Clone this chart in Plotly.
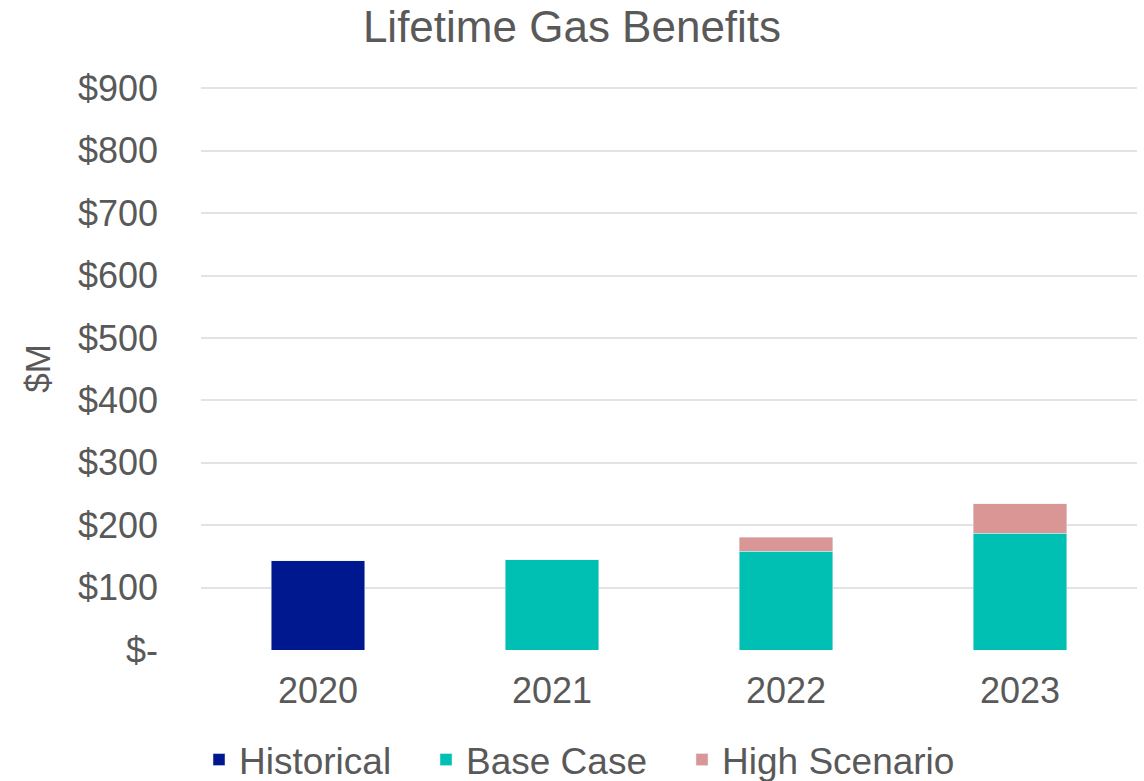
import plotly.graph_objects as go

years = ["2020", "2021", "2022", "2023"]
historical = [143, None, None, None]
base_case = [None, 145, 158, 187]
high_increment = [None, None, 23, 47]

tick_vals = [0, 100, 200, 300, 400, 500, 600, 700, 800, 900]
tick_text = ["$-", "$100", "$200", "$300", "$400", "$500", "$600", "$700", "$800", "$900"]

font_family = "Liberation Sans, Arial, sans-serif"
text_color = "#595959"

fig = go.Figure()
fig.add_trace(go.Bar(name="Historical", x=years, y=historical, marker_color="#00188F", legend="legend"))
fig.add_trace(go.Bar(name="Base Case", x=years, y=base_case, marker_color="#00BFB3", legend="legend2"))
fig.add_trace(go.Bar(name="High Scenario", x=years, y=high_increment, marker_color="#D99694", legend="legend3"))

W, H = 1144, 781
offset = 19
leg_common = dict(orientation="h", xref="container", yref="container",
                  y=1 - 760 / H, yanchor="middle", xanchor="left",
                  font=dict(size=37, color=text_color), bgcolor="rgba(0,0,0,0)")

fig.update_layout(
    barmode="stack",
    bargap=0.6,
    width=W,
    height=H,
    paper_bgcolor="white",
    plot_bgcolor="white",
    margin=dict(l=201, r=7, t=87, b=131),
    font=dict(family=font_family, color=text_color, size=36),
    title=dict(text="Lifetime Gas Benefits", x=0.5, xanchor="center", y=0.966, yanchor="middle",
               font=dict(size=44, color=text_color)),
    legend=dict(x=(218 - offset) / W, **leg_common),
    legend2=dict(x=(445 - offset) / W, **leg_common),
    legend3=dict(x=(701 - offset) / W, **leg_common),
    showlegend=True,
)
fig.update_xaxes(showgrid=False, showline=False, ticks="", tickfont=dict(size=36), ticklabelstandoff=16)
fig.update_yaxes(range=[0, 902], tickvals=tick_vals, ticktext=tick_text, showgrid=True,
                 gridcolor="#e3e3e3", gridwidth=2, zeroline=False, showline=False,
                 tickfont=dict(size=36), ticklabelstandoff=42,
                 title=dict(text="$M", font=dict(size=35), standoff=16))

fig.write_html("out.html")
